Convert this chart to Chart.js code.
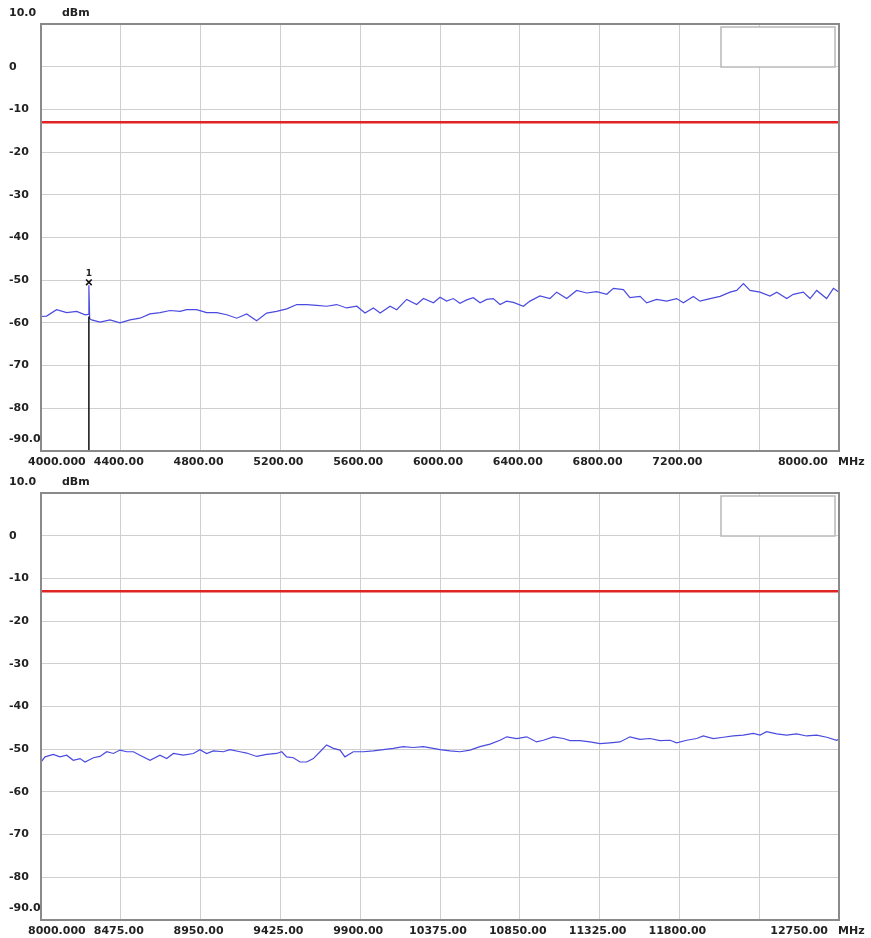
<!DOCTYPE html>
<html>
<head>
<meta charset="utf-8">
<script src="https://cdn.jsdelivr.net/npm/chart.js@4.4.1/dist/chart.umd.min.js"></script>
<style>
  html, body { margin: 0; padding: 0; background: #fff; }
  .plot { position: relative; width: 871px; height: 469px; }
</style>
</head>
<body>
<div class="plot"><canvas id="topPlot"></canvas></div>
<div class="plot"><canvas id="bottomPlot"></canvas></div>
<script>
// level axis (dBm)
const levelTicks = [10, 0, -10, -20, -30, -40, -50, -60, -70, -80, -90];
const levelLabels = ['10.0', '0', '-10', '-20', '-30', '-40', '-50', '-60', '-70', '-80', '-90.0'];
const limitLevel = -13;

// upper sweep 4000 - 8000 MHz
const topTicks = [4000, 4400, 4800, 5200, 5600, 6000, 6400, 6800, 7200, 7600, 8000];
const topTickLabels = ['4000.000', '4400.00', '4800.00', '5200.00', '5600.00', '6000.00', '6400.00', '6800.00', '7200.00', '', '8000.00'];
const topFreq = [4000, 4028, 4078, 4129, 4179, 4221, 4236, 4240, 4244, 4254, 4296, 4346, 4396, 4446, 4496,
  4546, 4597, 4647, 4697, 4730, 4780, 4830, 4881, 4931, 4981, 5031, 5081, 5131, 5181, 5232, 5282, 5332,
  5382, 5432, 5482, 5532, 5583, 5624, 5666, 5700, 5750, 5783, 5833, 5883, 5917, 5967, 6000, 6033, 6067,
  6100, 6134, 6167, 6201, 6234, 6267, 6301, 6334, 6368, 6418, 6451, 6501, 6551, 6585, 6635, 6685, 6735,
  6785, 6836, 6869, 6919, 6952, 7003, 7036, 7086, 7136, 7186, 7220, 7270, 7303, 7354, 7404, 7454, 7487,
  7521, 7554, 7604, 7654, 7688, 7738, 7771, 7821, 7855, 7888, 7938, 7972, 8000];
const topLevel = [-58.5, -58.4, -56.9, -57.6, -57.3, -58.1, -58.0, -51.2, -59.0, -59.3, -59.8, -59.3, -60.0, -59.3, -58.9,
  -57.9, -57.6, -57.1, -57.3, -56.9, -56.9, -57.6, -57.6, -58.1, -58.9, -57.9, -59.5, -57.7, -57.3, -56.7, -55.7, -55.7,
  -55.9, -56.1, -55.7, -56.5, -56.1, -57.7, -56.5, -57.7, -56.1, -56.9, -54.5, -55.7, -54.3, -55.3, -54.0, -54.9, -54.3,
  -55.4, -54.6, -54.1, -55.3, -54.5, -54.3, -55.7, -54.9, -55.2, -56.1, -54.9, -53.7, -54.3, -52.8, -54.3, -52.4, -53.0,
  -52.7, -53.3, -51.9, -52.2, -54.1, -53.8, -55.3, -54.5, -54.9, -54.3, -55.3, -53.8, -54.9, -54.3, -53.8, -52.8, -52.4,
  -50.8, -52.4, -52.8, -53.7, -52.8, -54.3, -53.3, -52.8, -54.3, -52.4, -54.3, -51.9, -52.8];
const markerFreq = 4240;
const markerLevel = -50.5;
const markerBase = -58.5;

// lower sweep 8000 - 12750 MHz
const bottomTicks = [8000, 8475, 8950, 9425, 9900, 10375, 10850, 11325, 11800, 12275, 12750];
const bottomTickLabels = ['8000.000', '8475.00', '8950.00', '9425.00', '9900.00', '10375.00', '10850.00', '11325.00', '11800.00', '', '12750.00'];
const bottomFreq = [8000, 8024, 8073, 8113, 8153, 8192, 8232, 8262, 8312, 8351, 8391, 8431, 8470, 8510, 8550,
  8589, 8649, 8708, 8748, 8788, 8847, 8907, 8946, 8986, 9026, 9085, 9125, 9185, 9224, 9284, 9343, 9403,
  9433, 9462, 9502, 9542, 9581, 9621, 9661, 9700, 9740, 9780, 9809, 9859, 9919, 9978, 10038, 10097, 10157,
  10216, 10276, 10335, 10375, 10435, 10494, 10554, 10613, 10673, 10732, 10772, 10831, 10891, 10950, 10990,
  11050, 11109, 11149, 11208, 11268, 11327, 11387, 11446, 11506, 11565, 11625, 11684, 11744, 11784, 11843,
  11903, 11942, 12002, 12061, 12121, 12180, 12240, 12280, 12319, 12379, 12438, 12498, 12557, 12617, 12677,
  12736, 12750];
const bottomLevel = [-53.0, -51.8, -51.2, -51.8, -51.4, -52.6, -52.2, -53.0, -52.0, -51.7, -50.6, -51.0, -50.2, -50.6, -50.6,
  -51.4, -52.6, -51.4, -52.2, -51.0, -51.4, -51.0, -50.1, -51.0, -50.4, -50.6, -50.1, -50.6, -50.9, -51.7, -51.2, -51.0,
  -50.6, -51.8, -52.0, -53.0, -53.0, -52.2, -50.6, -49.0, -49.8, -50.2, -51.8, -50.6, -50.6, -50.4, -50.1, -49.8, -49.4,
  -49.6, -49.4, -49.8, -50.1, -50.4, -50.6, -50.2, -49.4, -48.8, -47.9, -47.1, -47.5, -47.1, -48.3, -47.9,
  -47.1, -47.5, -48.0, -48.0, -48.3, -48.7, -48.5, -48.3, -47.1, -47.7, -47.5, -48.0, -47.9, -48.5, -47.9,
  -47.5, -46.9, -47.5, -47.2, -46.9, -46.7, -46.3, -46.7, -45.9, -46.4, -46.7, -46.4, -46.9, -46.7, -47.2,
  -47.9, -47.6];

const labelFont = 'bold 11px "DejaVu Sans"';

function points(xs, ys) {
  return xs.map((x, i) => ({ x: x, y: ys[i] }));
}

// frame, legend box and all axis texts
const analyzerDecor = {
  id: 'analyzerDecor',
  afterDraw(chart) {
    const ctx = chart.ctx;
    const a = chart.chartArea;
    const xs = chart.scales.x;
    const ys = chart.scales.y;
    const opts = chart.options.plugins.analyzerDecor;
    ctx.save();

    ctx.strokeStyle = '#8a8a8a';
    ctx.lineWidth = 2;
    ctx.strokeRect(a.left, a.top, a.right - a.left, a.bottom - a.top);

    ctx.strokeStyle = '#b8b8b8';
    ctx.lineWidth = 1.5;
    ctx.fillStyle = '#fff';
    ctx.fillRect(a.right - 118, a.top + 3, 114, 40);
    ctx.strokeRect(a.right - 118, a.top + 3, 114, 40);

    ctx.fillStyle = '#222';
    ctx.font = labelFont;
    ctx.textBaseline = 'middle';
    ctx.textAlign = 'left';
    levelTicks.forEach((v, i) => {
      let y = ys.getPixelForValue(v);
      if (i === 0) y -= 11;
      if (i === levelTicks.length - 1) y -= 12;
      ctx.fillText(levelLabels[i], 9, y);
    });
    ctx.fillText('dBm', 62, ys.getPixelForValue(10) - 11);

    const ty = a.bottom + 11;
    opts.ticks.forEach((v, i) => {
      const x = xs.getPixelForValue(v);
      if (i === 0) {
        ctx.textAlign = 'left';
        ctx.fillText(opts.labels[i], x - 13, ty);
      } else if (i === opts.ticks.length - 1) {
        ctx.textAlign = 'right';
        ctx.fillText(opts.labels[i], x - 11, ty);
      } else {
        ctx.textAlign = 'center';
        ctx.fillText(opts.labels[i], x - 2, ty);
      }
    });
    ctx.textAlign = 'left';
    ctx.fillText('MHz', a.right - 1, ty);

    if (opts.marker) {
      ctx.textAlign = 'center';
      ctx.font = 'bold 9px "DejaVu Sans"';
      ctx.fillText('1', xs.getPixelForValue(markerFreq), ys.getPixelForValue(markerLevel) - 9);
    }
    ctx.restore();
  }
};

function createSweep(canvasId, freq, level, fMin, fMax, step, ticks, labels, withMarker) {
  const ctx = document.getElementById(canvasId).getContext('2d');
  const datasets = [];
  if (withMarker) {
    datasets.push({
      data: [{ x: markerFreq, y: markerBase }, { x: markerFreq, y: -90 }],
      borderColor: '#111',
      borderWidth: 1.5,
      pointRadius: 0
    });
  }
  datasets.push({
    data: [{ x: fMin, y: limitLevel }, { x: fMax, y: limitLevel }],
    borderColor: '#e02424',
    borderWidth: 2.5,
    pointRadius: 0
  });
  datasets.push({
    data: points(freq, level),
    borderColor: '#4a4ae0',
    borderWidth: 1.2,
    pointRadius: 0,
    tension: 0
  });
  if (withMarker) {
    datasets.push({
      data: [{ x: markerFreq, y: markerLevel }],
      showLine: false,
      pointStyle: 'crossRot',
      pointRadius: 4,
      borderColor: '#111',
      borderWidth: 1.6
    });
  }

  new Chart(ctx, {
    type: 'line',
    data: { datasets: datasets },
    options: {
      responsive: true,
      maintainAspectRatio: false,
      animation: false,
      layout: { padding: { top: 24, right: 32, left: 0, bottom: 0 } },
      scales: {
        x: {
          type: 'linear',
          min: fMin,
          max: fMax,
          afterBuildTicks: (s) => { s.ticks = ticks.map(v => ({ value: v })); },
          afterFit: (s) => { s.height = 18; },
          ticks: { display: false },
          border: { display: false },
          grid: { color: '#cfcfcf', lineWidth: 1, drawTicks: false }
        },
        y: {
          min: -90,
          max: 10,
          afterBuildTicks: (s) => { s.ticks = levelTicks.map(v => ({ value: v })); },
          afterFit: (s) => { s.width = 41; },
          ticks: { display: false },
          border: { display: false },
          grid: { color: '#cfcfcf', lineWidth: 1, drawTicks: false }
        }
      },
      plugins: {
        legend: { display: false },
        tooltip: { enabled: false },
        analyzerDecor: { ticks: ticks, labels: labels, marker: withMarker }
      }
    },
    plugins: [analyzerDecor]
  });
}

window.onload = function () {
  createSweep('topPlot', topFreq, topLevel, 4000, 8000, 400, topTicks, topTickLabels, true);
  createSweep('bottomPlot', bottomFreq, bottomLevel, 8000, 12750, 475, bottomTicks, bottomTickLabels, false);
};
</script>
</body>
</html>
